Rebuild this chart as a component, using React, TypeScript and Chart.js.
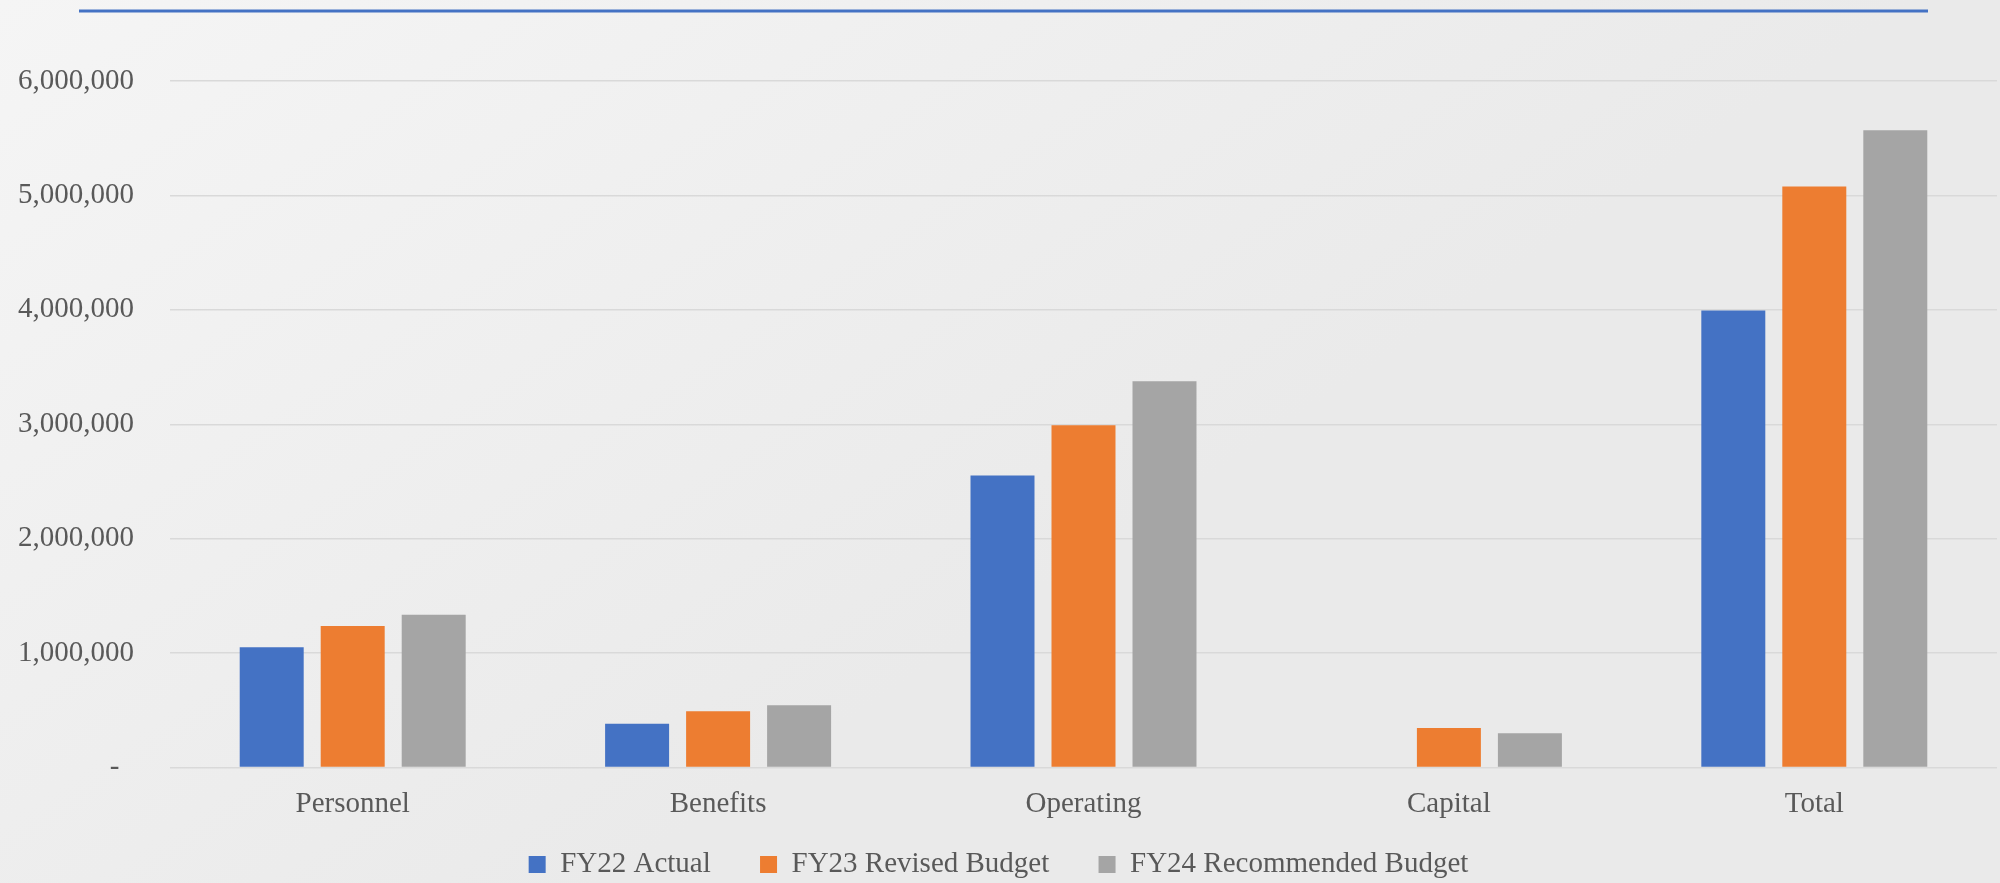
import React, { useEffect, useRef } from "react";
import { Chart, registerables } from "chart.js";

Chart.register(...registerables);

const categories = ["Personnel", "Benefits", "Operating", "Capital", "Total"];
const fy22Actual = [1052000, 382000, 2551000, 0, 3995000];
const fy23Revised = [1236000, 492000, 2991000, 345000, 5079000];
const fy24Recommended = [1336000, 545000, 3376000, 300000, 5569000];
const seriesLabels = ["FY22 Actual", "FY23 Revised Budget", "FY24 Recommended Budget"];
const seriesColors = ["#4472C4", "#ED7D31", "#A5A5A5"];
const yMax = 6000000;
const yStep = 1000000;

const FONT = "'Liberation Serif', 'Times New Roman', serif";
const TEXT = "#595959";

const decorPlugin = {
  id: "decor",
  beforeDraw(chart: any) {
    const { ctx, width, height } = chart;
    ctx.save();
    const g = ctx.createLinearGradient(0, 0, width * 0.3, height);
    g.addColorStop(0, "#f5f5f5");
    g.addColorStop(1, "#eaeaea");
    ctx.fillStyle = g;
    ctx.fillRect(0, 0, width, height);
    ctx.strokeStyle = "#4472C4";
    ctx.lineWidth = 3;
    ctx.beginPath();
    ctx.moveTo(79, 11);
    ctx.lineTo(1928, 11);
    ctx.stroke();
    ctx.restore();
  },
};

export default function App() {
  const ref = useRef<HTMLCanvasElement | null>(null);
  useEffect(() => {
    if (!ref.current) return;
    const chart = new Chart(ref.current, {
      type: "bar",
      data: {
        labels: categories,
        datasets: [fy22Actual, fy23Revised, fy24Recommended].map((d, i) => ({
          label: seriesLabels[i],
          data: d,
          backgroundColor: seriesColors[i],
          borderWidth: 0,
          categoryPercentage: 0.665,
          barPercentage: 0.79,
        })),
      },
      options: {
        animation: false,
        responsive: false,
        devicePixelRatio: 1,
        layout: { padding: { top: 81, right: 3, left: 0, bottom: 0 } },
        plugins: {
          tooltip: { enabled: false },
          legend: {
            position: "bottom",
            align: "center",
            labels: {
              boxWidth: 17,
              boxHeight: 17,
              padding: 27.5,
              color: TEXT,
              font: { family: FONT, size: 29 },
              generateLabels: (chart: any) => {
                const items = Chart.defaults.plugins.legend.labels.generateLabels(chart);
                return items.map((it: any, i: number) => ({
                  ...it,
                  text: i < items.length - 1 ? it.text + "   " : it.text,
                }));
              },
            },
          },
        },
        scales: {
          x: {
            grid: { display: false, drawTicks: false },
            border: { display: false },
            ticks: { color: TEXT, font: { family: FONT, size: 29 }, padding: 19, maxRotation: 0 },
            afterFit: (s: any) => {
              s.height = 55;
            },
          },
          y: {
            min: 0,
            max: yMax,
            grid: { color: "#d9d9d9", lineWidth: 1.5, drawTicks: false },
            border: { display: false },
            ticks: {
              stepSize: yStep,
              color: TEXT,
              padding: 36,
              font: { family: FONT, size: 29 },
              callback: (v: any) => (Number(v) === 0 ? "-  " : Number(v).toLocaleString("en-US")),
            },
            afterFit: (s: any) => {
              s.width = 170;
            },
          },
        },
      },
      plugins: [decorPlugin],
    });
    return () => chart.destroy();
  }, []);
  return (
    <div style={{ position: "fixed", left: 0, top: 0, width: 2000, height: 883, overflow: "hidden", background: "#eeeeee" }}>
      <canvas ref={ref} width={2000} height={889} style={{ display: "block" }} />
    </div>
  );
}
